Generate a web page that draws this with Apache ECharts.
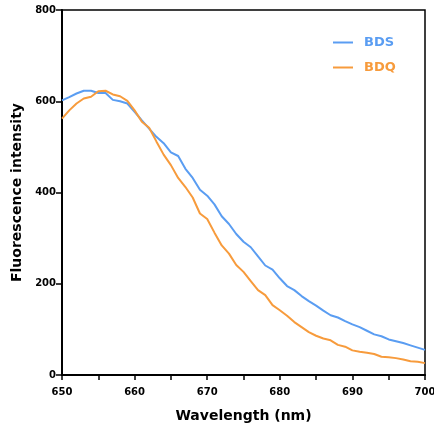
<!DOCTYPE html>
<html><head><meta charset="utf-8">
<script src="https://cdn.jsdelivr.net/npm/echarts@6/dist/echarts.min.js"></script>
<style>html,body{margin:0;padding:0;background:#fff}#c{width:434px;height:432px}</style>
</head><body><div id="c"></div>
<script>
const wavelengths = [];
for (let w = 650; w <= 700; w++) wavelengths.push(w);
const bds = [602,609,617,623,623,618,618,603,600,595,577,558,540,522,508,488,480,452,432,406,393,374,348,331,309,292,280,260,240,231,212,195,186,173,162,152,141,131,126,118,111,105,97,89,85,78,74,70,65,60,55];
const bdq = [562,580,595,606,610,622,623,615,611,601,580,555,542,512,483,460,432,412,389,354,342,312,284,266,241,226,206,186,175,153,142,130,116,105,94,86,80,76,66,62,54,51,49,46,40,39,37,34,30,29,26];
const seriesNames = ['BDS','BDQ'];
const colors = ['#5a9df2','#f79b3c'];
const xTitle = 'Wavelength (nm)';
const yTitle = 'Fluorescence intensity';

const chart = echarts.init(document.getElementById('c'), null, {renderer:'canvas'});
const font = 'DejaVu Sans';
chart.setOption({
  animation:false,
  backgroundColor:'#fff',
  grid:{left:62,right:9,top:10,bottom:57,containLabel:false,outerBoundsMode:'none',show:true,borderColor:'#000',borderWidth:1.5,backgroundColor:'transparent'},
  legend:{
    orient:'vertical', left:333, top:36, padding:0, itemWidth:20, itemHeight:2, itemGap:12,
    icon:'rect',
    textStyle:{fontFamily:font,fontWeight:'bold',fontSize:13,padding:[0,0,0,6]},
    data:[
      {name:seriesNames[0], textStyle:{color:colors[0]}},
      {name:seriesNames[1], textStyle:{color:colors[1]}}
    ]
  },
  xAxis:{
    type:'value', min:650, max:700, interval:10,
    name:xTitle, nameLocation:'middle', nameGap:34,
    nameTextStyle:{fontFamily:font,fontWeight:'bold',fontSize:14,color:'#000'},
    axisLine:{show:true,lineStyle:{color:'#000',width:2}},
    axisTick:{show:true,length:5,lineStyle:{color:'#000',width:1.5}},
    minorTick:{show:true,splitNumber:2,length:5,lineStyle:{color:'#000',width:1.5}},
    axisLabel:{fontFamily:font,fontWeight:'bold',fontSize:10,color:'#000',margin:12},
    splitLine:{show:false}
  },
  yAxis:{
    type:'value', min:0, max:800, interval:200,
    name:yTitle, nameLocation:'middle', nameGap:35, nameRotate:90,
    nameTextStyle:{fontFamily:font,fontWeight:'bold',fontSize:14,color:'#000'},
    axisLine:{show:true,lineStyle:{color:'#000',width:2}},
    axisTick:{show:true,length:6,lineStyle:{color:'#000',width:1.5}},
    axisLabel:{fontFamily:font,fontWeight:'bold',fontSize:10,color:'#000',margin:6},
    splitLine:{show:false}
  },
  series:[
    {name:seriesNames[0], type:'line', data:wavelengths.map((w,i)=>[w,bds[i]]), showSymbol:false, symbol:'none', color:colors[0], lineStyle:{width:2,color:colors[0]}, z:3},
    {name:seriesNames[1], type:'line', data:wavelengths.map((w,i)=>[w,bdq[i]]), showSymbol:false, symbol:'none', color:colors[1], lineStyle:{width:2,color:colors[1]}, z:4}
  ]
});
</script></body></html>
